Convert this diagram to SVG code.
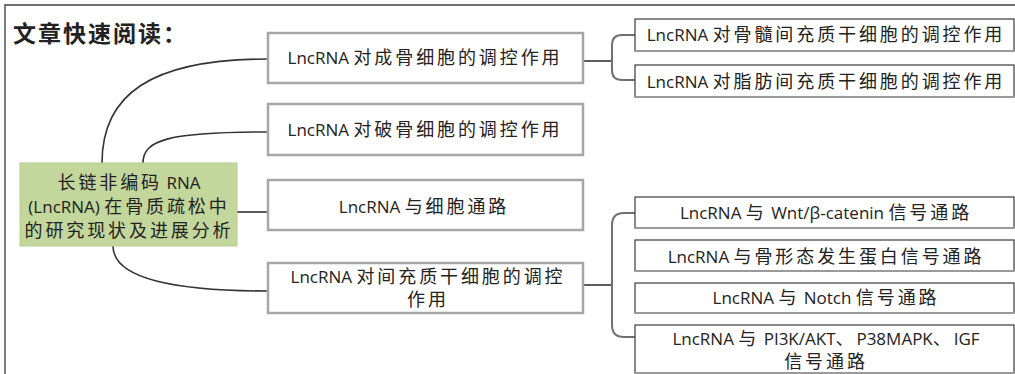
<svg xmlns="http://www.w3.org/2000/svg" width="1015" height="374" viewBox="0 0 1015 374">
<style>
text{font-family:"Open Sans","Noto Sans CJK SC",sans-serif;font-size:17px;fill:#222;text-anchor:middle}
.cj{font-family:"Noto Sans CJK SC",sans-serif;font-size:18px;letter-spacing:2.9px}
.title{font-family:"Noto Sans CJK SC",sans-serif;font-size:23px;font-weight:bold;letter-spacing:2px;text-anchor:start;fill:#222}
.l1{fill:#fff;stroke:#a6a6a6;stroke-width:2.5}
.l2{fill:#fff;stroke:#3a3a3a;stroke-width:1.2}
.sh{stroke:#9a9a9a;stroke-width:2;fill:none}
.root{fill:#c3d69b;stroke:#b8cc90;stroke-width:1}
.c{fill:none;stroke:#333;stroke-width:1.6}
.br{fill:none;stroke:#707070;stroke-width:2}
.frame{fill:none;stroke:#707070;stroke-width:1.8}
</style>
<path class="frame" d="M5,374 V5 H1015"/>
<text class="title" x="13" y="42">文章快速阅读：</text>

<g id="connectors">
<path class="c" d="M102,163 C102,95 150,59 268,59"/>
<path class="c" d="M143,163 C143,140 168,132 268,132"/>
<path class="c" d="M237,212 H268"/>
<path class="c" d="M113,246 C113,280 180,291 268,291"/>
<path class="c" d="M583,61 H612"/>
<path class="br" d="M635,35 H622 Q612,35 612,45 V70 Q612,80 622,80 H635"/>
<path class="c" d="M583,285 H612"/>
<path class="br" d="M635,213 H624 Q612,213 612,225 V325 Q612,337 624,337 H635"/>
</g>

<g id="root">
<rect class="root" x="20" y="163" width="217" height="83"/>
<text x="129" y="189"><tspan class="cj">长链非编码</tspan> RNA</text>
<text x="129" y="213">(LncRNA) <tspan class="cj">在骨质疏松中</tspan></text>
<text x="129" y="237"><tspan class="cj">的研究现状及进展分析</tspan></text>
</g>

<g id="n1">
<rect class="l1" x="268" y="33" width="315" height="50"/>
<text x="425" y="64">LncRNA <tspan class="cj">对成骨细胞的调控作用</tspan></text>
</g>
<g id="n2">
<rect class="l1" x="268" y="104" width="315" height="51"/>
<text x="425" y="136">LncRNA <tspan class="cj">对破骨细胞的调控作用</tspan></text>
</g>
<g id="n3">
<rect class="l1" x="268" y="180" width="315" height="50"/>
<text x="424" y="213">LncRNA <tspan class="cj">与细胞通路</tspan></text>
</g>
<g id="n4">
<rect class="l1" x="268" y="263" width="315" height="50"/>
<text x="428" y="283">LncRNA <tspan class="cj">对间充质干细胞的调控</tspan></text>
<text x="428" y="306"><tspan class="cj">作用</tspan></text>
</g>

<g id="n1a">
<rect class="l2" x="635" y="19" width="379" height="32"/>
<path class="sh" d="M635,51 H1014"/>
<text x="826" y="41">LncRNA <tspan class="cj">对骨髓间充质干细胞的调控作用</tspan></text>
</g>
<g id="n1b">
<rect class="l2" x="635" y="65" width="379" height="32"/>
<path class="sh" d="M635,97 H1014"/>
<text x="826" y="88">LncRNA <tspan class="cj">对脂肪间充质干细胞的调控作用</tspan></text>
</g>

<g id="n4a">
<rect class="l2" x="635" y="197" width="379" height="31"/>
<path class="sh" d="M635,228 H1014"/>
<text x="826" y="219">LncRNA <tspan class="cj">与</tspan> Wnt/β-catenin <tspan class="cj">信号通路</tspan></text>
</g>
<g id="n4b">
<rect class="l2" x="635" y="240" width="379" height="31"/>
<path class="sh" d="M635,271 H1014"/>
<text x="826" y="263">LncRNA <tspan class="cj">与骨形态发生蛋白信号通路</tspan></text>
</g>
<g id="n4c">
<rect class="l2" x="635" y="283" width="379" height="30"/>
<path class="sh" d="M635,313 H1014"/>
<text x="826" y="304">LncRNA <tspan class="cj">与</tspan> Notch <tspan class="cj">信号通路</tspan></text>
</g>
<g id="n4d">
<rect class="l2" x="635" y="325" width="379" height="48"/>
<path class="sh" d="M635,373 H1014"/>
<text x="826" y="345">LncRNA <tspan class="cj">与</tspan> PI3K/AKT<tspan class="cj">、</tspan>P38MAPK<tspan class="cj">、</tspan>IGF</text>
<text x="826" y="368"><tspan class="cj">信号通路</tspan></text>
</g>
</svg>
